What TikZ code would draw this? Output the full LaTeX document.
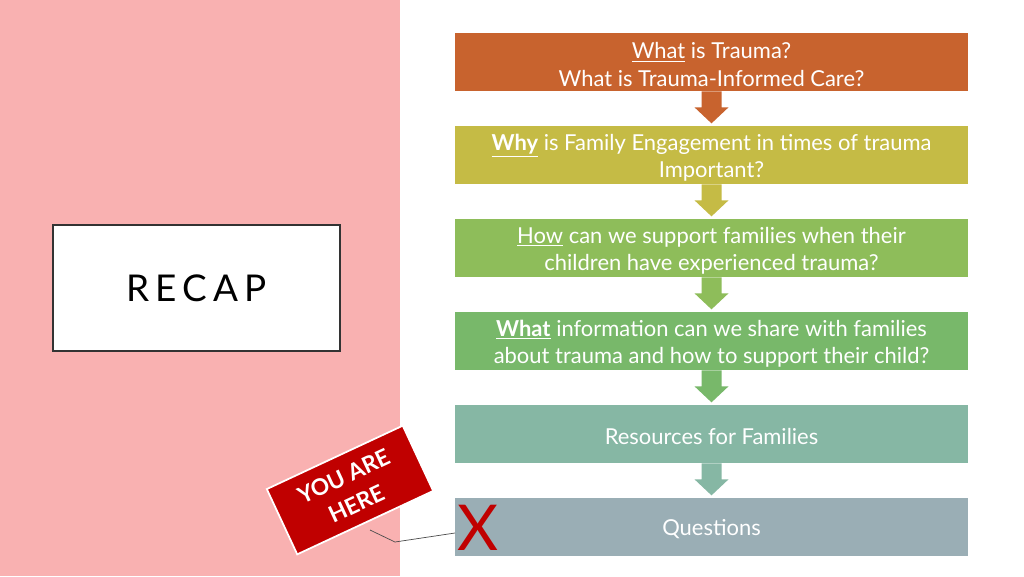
\documentclass[tikz,border=0pt]{standalone}
\usepackage{fontspec}
\setmainfont{Lato}
\definecolor{pinkbg}{HTML}{F9B1B1}
\definecolor{c1}{HTML}{C8632E}
\definecolor{c2}{HTML}{C5BB45}
\definecolor{c3}{HTML}{8EBD5A}
\definecolor{c4}{HTML}{78B86A}
\definecolor{c5}{HTML}{86B7A4}
\definecolor{c6}{HTML}{9AAEB5}
\definecolor{signred}{HTML}{C00000}
\begin{document}
\begin{tikzpicture}[x=0.02cm,y=-0.02cm,
  stepbox/.style={minimum width=513*0.02cm,minimum height=58*0.02cm,inner sep=0pt,align=center,text=white,font=\fontsize{12.5}{15.5}\selectfont}]
\useasboundingbox (0,0) rectangle (1024,576);
\fill[white] (0,0) rectangle (1024,576);
\fill[pinkbg] (0,0) rectangle (400,576);
\node[draw=black!80,line width=1.2pt,fill=white,minimum width=287*0.02cm,minimum height=126*0.02cm,font=\fontsize{21}{24}\selectfont] (recap) at (196.5,288) {R\,E\,C\,A\,P};
\foreach \i/\c/\y in {1/c1/62,2/c2/155,3/c3/248,4/c4/341,5/c5/434,6/c6/527}{
  \node[stepbox,fill=\c] (b\i) at (711.5,\y) {};
}
\foreach \i/\c in {1/c1,2/c2,3/c3,4/c4,5/c5}{
  \fill[\c] ([xshift=-0.2cm]b\i.south) -- ([xshift=0.2cm]b\i.south) -- ([xshift=0.2cm,yshift=-0.32cm]b\i.south) -- ([xshift=0.34cm,yshift=-0.32cm]b\i.south) -- ([yshift=-0.64cm]b\i.south) -- ([xshift=-0.34cm,yshift=-0.32cm]b\i.south) -- ([xshift=-0.2cm,yshift=-0.32cm]b\i.south) -- cycle;
}
\node[stepbox,anchor=north,yshift=-0.05cm] at (b1.north) {\underline{What} is Trauma?\\What is Trauma-Informed Care?};
\node[stepbox,anchor=north,yshift=-0.05cm] at (b2.north) {\textbf{\underline{Why}} is Family Engagement in times of trauma\\Important?};
\node[stepbox,anchor=north,yshift=-0.05cm] at (b3.north) {\underline{How} can we support families when their\\children have experienced trauma?};
\node[stepbox,anchor=north,yshift=-0.05cm] at (b4.north) {\textbf{\underline{What}} information can we share with families\\about trauma and how to support their child?};
\node[stepbox,anchor=north,yshift=-0.05cm] at (b5.north) {Resources for Families};
\node[stepbox,anchor=north,yshift=-0.05cm] at (b6.north) {Questions};
\node[text=signred,font=\fontsize{36}{36}\selectfont] (x) at (478,528) {X};
\coordinate (p1) at (370,530);
\coordinate (p2) at (395,542);
\draw[black!70,thin] (p1) -- (p2) -- (455,533);
\node[fill=signred,draw=white,line width=1pt,rotate=25,minimum width=150*0.02cm,minimum height=72*0.02cm,align=center,text=white,font=\bfseries\fontsize{13}{17}\selectfont] (sign) at (350,490) {YOU ARE\\HERE};
\end{tikzpicture}
\end{document}
